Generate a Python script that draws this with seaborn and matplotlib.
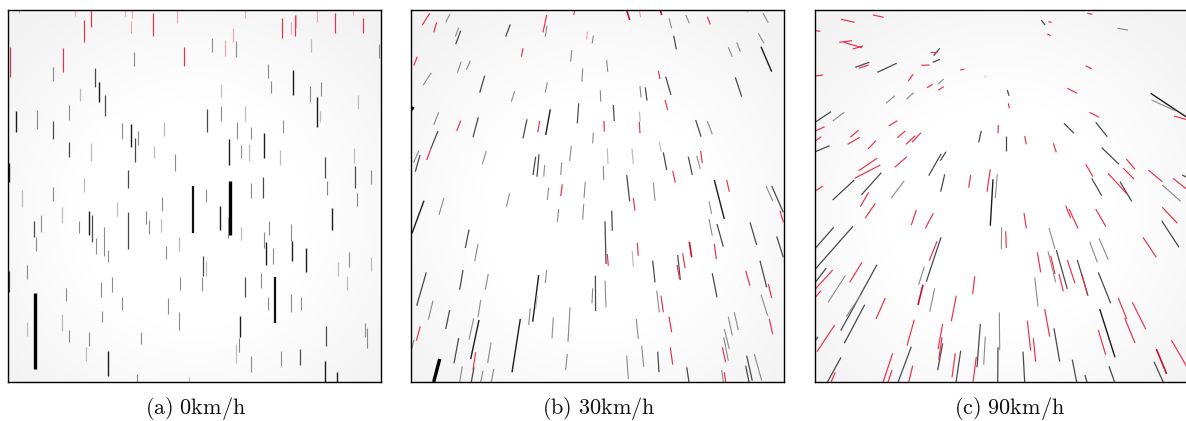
import numpy as np
import pandas as pd
import matplotlib
matplotlib.use("Agg")
import matplotlib.pyplot as plt
import seaborn as sns

# ---------------- data (image pixel coordinates of each streak) ----------------
# panel (a) 0km/h : vertical streaks  x, y_top, y_bottom, kind
a_x = [19.3, 75.3, 91.3, 83.7, 125.3, 132, 131.3, 153.3, 177.3, 10.3, 63.3, 184.3,
       244.7, 233.3, 225.3, 282.3, 290.7, 294.7, 295.7, 317.3, 334.7, 353.3, 363.3,
       134.3, 53.3, 95, 99, 80, 104.7, 69.3, 16.3, 37.3, 52.7, 122.3, 131.3, 138.3, 135, 164,
       153.7, 69.3, 91, 174.7, 8.8, 127.7, 83.7, 52.7, 21.7, 193,
       212.3, 236.3, 310.7, 379.3, 268.3, 292.7, 271.3, 221, 310, 321.3, 358, 317.3, 319.7,
       206.7, 221.3, 244.7, 283.3, 237.3, 251.3, 229.3, 264.3, 240.7, 248.7, 280, 325.3,
       354.3, 354.7, 370.7, 229.7, 262.7, 250.7, 327.3, 206, 357.3,
       220.3, 227.7, 241, 269.3, 264.3, 266.3, 273.3, 291.3, 292.3, 306.3, 332, 349.3, 338,
       371, 347, 202.7, 206.3, 202.3, 244.7, 261.3, 275.3, 268.3, 291.3, 301.3, 240.3, 239.3,
       236.3, 251.3, 281.3, 299.7, 325.7, 364.7, 366.7, 325.3, 337.3,
       61.7, 40.7, 34, 36.3, 89.3, 92, 79.3, 96.3, 104.3, 108.3, 116.7, 128, 146.3, 148.7,
       160.7, 162.3, 179, 166.3, 27.3, 9, 66.3, 100.7, 112.3, 122.3, 180.3, 168.3, 35.3, 61.7,
       27, 102.3, 69, 89.3, 179.3, 85.7, 107.7, 141.3, 137.3, 189.3]
a_y0 = [10, 10, 10, 20, 10, 10, 21, 13.3, 10, 46.7, 48.3, 46.7,
        10, 27.7, 40, 18.3, 22.3, 15, 15, 10, 13.3, 10, 18.3,
        52.3, 67.3, 68.3, 81.7, 88.3, 95, 105, 111, 110.3, 120.7, 123.3, 124.3, 131, 137.7, 121.7,
        145.7, 141.7, 143.3, 154.3, 163.3, 170, 177.7, 186.7, 190, 186,
        37.7, 41, 39.3, 44.3, 64.3, 70, 80.7, 84.3, 86, 82.3, 95, 97.3, 111,
        109.3, 105.7, 105.7, 120, 122.3, 126.7, 139, 133.3, 145, 144.3, 150, 156.7,
        148.3, 165.7, 170, 181, 176.7, 182.7, 180.7, 189, 192.7,
        206.3, 217.3, 227.3, 221.3, 232.3, 241.7, 248.3, 224, 240.7, 248, 208.3, 252.3, 262.3,
        257.3, 275.7, 255.7, 260.7, 277.3, 277.3, 273, 276.7, 297.3, 294, 296.7, 315.7, 338,
        344, 356.3, 350.7, 349, 325.7, 323.3, 328, 360.7, 371.7,
        207.3, 215, 221.3, 237.3, 210.7, 215, 221.3, 238, 227.3, 250, 202.3, 211.7, 210.7, 220,
        219, 197.3, 237.3, 245.7, 264.7, 270.7, 288.3, 281.7, 277.3, 297.3, 277.3, 298.3, 293, 314,
        321.7, 310.7, 330, 331.7, 311.7, 347.3, 351.3, 331.7, 374, 377]
a_y1 = [13.3, 15.7, 26.7, 42.3, 15.7, 17.7, 33.3, 35.7, 23.3, 77.3, 71.7, 65.7,
        17.7, 41.7, 56, 38.3, 34, 35.7, 27.7, 22.3, 33.3, 15, 33.3,
        65.7, 80.7, 87.3, 101.7, 100.7, 115.7, 120, 131.7, 129, 139, 139, 146.7, 145, 162.3, 135.7,
        158.3, 156.7, 160.7, 170.7, 181.7, 188.3, 191.7, 200.7, 207.3, 233,
        51.7, 56.7, 52.3, 57.7, 78.3, 95, 93.3, 96.7, 101.7, 95.7, 109.3, 127, 122.3,
        131.7, 121, 121, 132.7, 139.3, 139.3, 165, 158.3, 158.3, 160.7, 165, 177.7,
        162.7, 187.7, 184.3, 234.7, 198, 198, 195, 202.3, 206.3,
        229.7, 238, 239.7, 234.7, 248.3, 265, 264, 240.7, 261.3, 272.3, 230, 266.7, 275.7,
        271.3, 289.7, 275.7, 275.7, 290.7, 297.3, 288, 323.3, 310, 312.3, 310, 336.7, 352.3,
        363.3, 371.7, 365.7, 364.7, 346.3, 336.7, 348, 382, 382,
        223, 231.7, 237.3, 250.7, 235, 242.3, 233, 254, 255.7, 262.3, 215.7, 249, 224, 234,
        231.7, 211.3, 250.7, 259, 279, 292.3, 301.3, 296.7, 292.3, 309.7, 290, 314, 369, 330.7,
        335.7, 322.3, 341.7, 345.7, 329.7, 360.7, 375.7, 344, 382, 382]
a_kind = list("pprrpppr" "prrr" "pppr" "prppr" "pr") + \
    ["g", "g", "d", "k", "l", "d", "g", "k", "g", "d", "g", "k", "g", "d", "l",
     "l", "d", "l", "g", "k", "d", "l", "g", "l", "kt",
     "g", "g", "l", "g", "g", "k", "g", "l", "g", "g", "l", "k", "l",
     "d", "g", "l", "g", "g", "g", "k", "k", "g", "l", "l", "d",
     "l", "d", "g", "K", "d", "g", "g", "g", "g",
     "k", "g", "l", "g", "g", "k", "g", "g", "k", "k", "k", "g", "l",
     "l", "l", "d", "l", "g", "d", "g", "kt", "g", "g", "g", "k", "g",
     "l", "g", "g", "d", "d", "g", "g", "k", "k",
     "l", "g", "d", "g", "k", "d", "g", "g", "g", "g", "l", "d", "g", "g",
     "l", "g", "l", "g", "g", "d", "g", "g", "g", "g", "g", "g", "K", "l",
     "l", "g", "g", "g", "g", "l", "k", "g", "g", "l"]

# panel (b) 30km/h : slanted streaks  x0, y0, x1, y1, kind
b_x0 = [429.7, 436.7, 450, 458.7, 460.7, 510.3, 546.7, 547, 574.7, 587.3, 593.3, 523, 417.3,
        461.3, 470.3, 431.3, 484.7, 571.7, 582.7, 547.3, 514.7, 413, 438.7, 460.7, 478.3, 527,
        539.7, 550.3, 578.7, 593.3, 438, 430.7, 418.7, 420, 486.3, 535.7, 539, 544.7, 571.3,
        561.7, 585.3, 562.3, 548.7, 509.7,
        626.7, 639.3, 660.3, 669, 685.7, 707.3, 746.7, 763, 758.3, 673.7, 728.3, 736.7, 761,
        606.7, 658.3, 665.7, 735.3, 600.3, 640, 645.3, 665, 613.3, 639.3, 639.3, 604, 695.7,
        707.3, 607.3, 632, 659.3, 663.3, 700.7, 696.7, 688.3, 603.3, 672.7, 626.7, 653.3,
        714.3, 726.7, 766, 771.7,
        633.3, 780, 611.7, 605, 607.3, 709, 709, 717, 750, 776.7, 637.3, 632.3, 652.7, 677.7,
        677, 682.7, 689.3, 714.3, 712.3, 760, 745.7, 768.3, 761, 769.3, 595.4, 605, 656.7,
        661, 669, 636.3, 728.3, 734.3, 724.3, 723.7, 722.3, 641.7, 670.3, 657.7, 626.7, 686.7,
        721.7, 724.3, 746.7, 745.7, 754.3,
        558.7, 583.7, 424, 444, 469, 478, 426.3, 463, 488.3, 538.7, 546.7, 537.3, 530.3,
        592.7, 433, 449.7, 480.7, 473.7, 479, 553.3, 570, 520.3, 420.3, 414, 458.7, 491,
        475.7, 439.7, 462.3, 474, 483, 493.7, 567.3]
b_y0 = [13.3, 22.3, 14, 27.7, 30.7, 24.3, 15, 25.7, 10, 31.7, 35.7, 48.3, 56.7,
        61.7, 60.7, 72.7, 75.7, 50, 68.3, 82.3, 91, 106.7, 112.3, 120.7, 117.3, 119.3,
        121, 109.3, 103.3, 132.7, 131, 149, 150.7, 155, 151, 156.7, 154.3, 165, 146,
        162.3, 181.7, 184.3, 187.7, 193.3,
        10, 10, 10, 18.3, 15, 16.7, 10, 13.3, 33.3, 35.7, 47.3, 42.3, 46.7,
        60, 71, 76.7, 77.3, 90, 86, 87.3, 100, 105, 111.7, 121.7, 121, 120,
        121, 148.3, 148.3, 142.3, 152.3, 151, 155.7, 156.7, 166, 170.7, 175, 182.7,
        180, 180, 186, 186,
        198, 210.7, 210.7, 221.3, 254, 201.3, 219, 224, 222.3, 236.3, 243, 251.3, 260.7, 255,
        265, 253.3, 241.7, 244, 273.3, 260.7, 270.7, 284, 294.7, 319, 275.7, 280.7, 290.7,
        295.7, 316.7, 319, 316.7, 312.3, 329, 337.3, 347.3, 345.7, 347.3, 351.7, 355.7, 367.3,
        370, 372.3, 355.7, 365.7, 354,
        209, 204, 200.7, 198, 229.7, 244, 272.3, 270, 274, 275, 269.7, 295.7, 308.3,
        288.3, 300.7, 310, 300, 318.3, 320, 317.3, 307.3, 319, 326.3, 339.7, 338, 342.3,
        352.3, 359, 366.3, 367.3, 370.7, 369, 354]
b_x1 = [422.3, 433.7, 445.7, 455.3, 455.7, 505.7, 543, 545.3, 573.7, 586.7, 592.3, 521.3, 413.7,
        457.3, 466.3, 423.3, 479.7, 570.7, 582, 545.3, 511.3, 411.3, 433.7, 456.7, 473, 523,
        537.7, 545.7, 577.3, 592.7, 430.7, 426.7, 413.7, 415.3, 482.3, 533, 537, 543.7, 569.7,
        560.7, 584, 560.7, 547.3, 506.3,
        629.7, 640.7, 661.7, 671.7, 689.3, 710.3, 748, 768.3, 764, 676.3, 732.3, 740.3, 771.7,
        607.7, 660, 671, 741.7, 600.7, 641, 647, 667.7, 614.3, 640.3, 640, 604.3, 701,
        712.3, 608, 633.3, 661.3, 666.7, 702.3, 700.3, 692.3, 603.7, 675.3, 629.7, 655,
        724.3, 729.3, 772.7, 783.3,
        635, 783.3, 612.3, 606, 608.3, 711.7, 712.3, 723.3, 756.7, 783.3, 638.3, 633.3, 655, 680.3,
        679.7, 685, 691.7, 716.3, 717, 766.7, 750, 771.7, 767.7, 772.7, 595.6, 606, 659.3,
        663.3, 671.7, 638.3, 732.3, 738.3, 729.3, 728.3, 725.7, 643.7, 672.7, 659, 628.3, 689,
        723.3, 725.7, 752.3, 749, 761.7,
        557.3, 582.7, 412, 439, 465.3, 474.7, 416.7, 459.7, 485.3, 532.7, 545.3, 535.7, 528.7,
        592, 428.3, 445.7, 478, 469, 470.7, 552, 568, 512, 416.3, 411.3, 454, 487.7,
        473, 433.7, 459.7, 471.3, 480.7, 491.3, 565.7]
b_y1 = [25, 32.3, 22.3, 36.7, 44.3, 36.7, 32.3, 36.7, 15, 39.3, 43.3, 56.7, 65.7,
        72.7, 70, 85, 92.7, 61.7, 81.7, 92.7, 101.7, 110, 125, 131, 137.3, 138.3,
        132.3, 135, 123.3, 143.3, 149, 160, 162.7, 171.7, 164.3, 175, 176.7, 176.7, 161,
        175, 198, 196, 200, 206.7,
        20, 17.3, 15, 28.3, 23.3, 24.3, 12.3, 22.7, 43.3, 49.3, 56.7, 51.7, 71.7,
        71.7, 79, 95, 96.7, 101.7, 97.7, 100.7, 110, 121, 121.7, 133.3, 131.7, 136.7,
        134.3, 164.3, 164.3, 151.7, 170, 163.3, 169, 175, 180, 182.7, 201.3, 200.7,
        219, 191.7, 200.7, 212.3,
        210.7, 222.3, 230.7, 264, 265.7, 214, 235.7, 246.7, 245, 257.3, 255.7, 266.7, 282.3, 280,
        279, 268, 257.3, 259, 297.3, 287.3, 285.7, 298, 315.7, 334, 311, 307.3, 312.3,
        312.3, 332.3, 339, 335.7, 330, 349, 360.7, 362.3, 366.7, 364.7, 372.3, 379, 382,
        382, 382, 380.7, 382, 380.7,
        222.3, 219.7, 233.3, 214.7, 248, 261.3, 305.7, 289.7, 289.7, 321.7, 283, 309, 325,
        303.3, 319.7, 329, 317.3, 339.7, 359, 338.3, 341.7, 372.3, 340.7, 350.7, 363.3, 363,
        369.7, 382, 382, 382, 382, 382, 370]
b_kind = ["r", "r", "g", "g", "d", "d", "r", "g", "r", "p", "g", "r", "r",
          "g", "g", "g", "d", "g", "g", "g", "g", "K", "g", "r", "d", "d",
          "r", "k", "d", "g", "d", "r", "g", "d", "g", "d", "d", "g", "g",
          "g", "g", "r", "g", "g",
          "R", "p", "R", "g", "g", "r", "p", "g", "g", "d", "g", "g", "k",
          "g", "r", "d", "d", "g", "g", "d", "r", "d", "l", "r", "r", "d",
          "g", "l", "l", "l", "d", "r", "g", "d", "g", "r", "d", "g",
          "k", "r", "g", "d",
          "r", "r", "d", "d", "r", "g", "g", "d", "d", "d", "r", "l", "d", "d",
          "r", "r", "R", "r", "d", "d", "r", "r", "g", "r", "d", "g", "g",
          "r", "r", "g", "g", "g", "g", "g", "r", "g", "r", "d", "g", "d",
          "g", "r", "d", "d", "g",
          "g", "g", "k", "g", "d", "g", "d", "d", "g", "k", "g", "l", "g",
          "g", "g", "d", "g", "g", "k", "g", "g", "k", "r", "g", "d", "g",
          "r", "K", "g", "d", "g", "g", "g"]

# panel (c) 90km/h : slanted streaks  x0, y0, x1, y1, kind
c_x0 = [841, 873, 815.3, 839.3, 843.7, 852.7, 815.3, 855.3, 858.7, 877.3, 930.3, 933.7, 932.7,
        921.3, 960.3, 984.7, 908.3, 938, 927, 938, 886, 906.3, 816, 832.7, 888.7, 815.3,
        815.3, 815.3, 850.3, 847.7, 868, 897.3, 906, 912, 978.7, 998, 894.7, 858.7, 854.7,
        928.7, 940.3, 815.3, 832.7, 861.3, 891.3, 860.3, 940.7, 968.7, 987, 990.3, 995.3,
        865.3, 911.3, 925.3, 815.3, 815.3, 849.7, 815.3, 815.3, 815.3, 828, 840.7, 846.3,
        844.3, 876, 815.3, 817, 827.3, 831, 926.3, 929.3, 918.7, 918, 929.7, 972.7, 951.3,
        907, 938, 937.7, 938.7, 977, 983.7, 973, 956, 952, 883, 888, 898, 908.7, 997.7, 1001.3,
        1087.3, 1041.3, 1048.3, 1047.3, 1117.3, 1085.7, 1067.3, 1007.3, 1008.3, 1150.7, 1151.7,
        1174, 1089.7, 1064, 1095.7, 1005.7, 1024.7, 1053.3, 1101.7, 1126.3, 1123.3, 1085.7,
        1091.7, 1108, 1120, 1148.3, 1162.3, 1173, 1182.3,
        1065.7, 1069, 1095.7, 1024, 1162.3, 1161.7, 1005.7, 1049, 1089.7, 1099, 1143, 1037.3,
        1048, 1050.7, 1056.3, 1059, 1067.3, 1077.3, 1081.7, 1098.3, 1034.7, 1118.3, 1132.3,
        1124.7, 1044.7, 1099.7, 1054, 1027.3, 1033.3, 1098.3, 1171.3, 1023, 1072.3, 1085,
        1109, 1156.3, 1154, 999.3]
c_y0 = [19.3, 15, 30.7, 42.3, 42.3, 49, 76, 67.3, 68.3, 72.3, 51.7, 55.7, 62.3,
        65.3, 70, 77.3, 81, 84, 87.7, 90.3, 103.3, 99.3, 121.7, 121, 126, 131,
        141, 151.7, 137.3, 144.3, 149, 137.7, 144.3, 142.3, 142.3, 133.3, 167.3, 170.7, 178.3,
        175.7, 160.7, 191, 200, 195, 198, 206.7, 191.7, 187.7, 191.7, 225.7, 198,
        218, 225, 228.3, 248.3, 269, 282.3, 282.3, 289, 297.3, 302.3, 330.7, 316.7,
        343.3, 319, 340.7, 351.7, 382.3, 382.3, 281.7, 260.7, 284.7, 305, 311.7, 294, 321.3,
        345.7, 349, 370, 359.7, 367.3, 364.7, 382.3, 382.3, 377.3, 382.3, 382.3, 382.3, 382.3,
        382.3, 249,
        13.3, 20, 21.7, 34, 28.3, 65.7, 88.3, 90, 103.3, 93.3, 100,
        116, 112.3, 123.3, 122.3, 135.7, 136, 143.3, 147.7, 159, 168.3, 164.3,
        178.3, 173.3, 181.7, 170, 185, 178.3, 175,
        205.7, 209, 209, 213, 207.3, 220.7, 231.3, 228, 241.7, 238.3, 237.3, 252.3,
        251.3, 255.7, 250, 274, 260, 260, 274, 272.3, 277.3, 298, 302.3,
        318, 309, 309, 328.3, 320.7, 338.3, 330, 340, 351.7, 359.7, 375,
        366.3, 349, 361.7, 312.3]
c_x1 = [854.7, 883.7, 820.3, 852, 862, 863, 823, 869.3, 868.7, 896.7, 937.3, 939.7, 940,
        929.7, 964.3, 985.7, 913, 943.7, 932.7, 943.7, 894.7, 913.7, 831, 844.3, 897.3, 824.7,
        821.3, 829.7, 858.7, 859.7, 876, 905.3, 915.3, 921, 981.3, 998.3, 907, 877, 880.3,
        941, 946, 823, 854.3, 881.3, 904.3, 868.7, 944.7, 970.7, 990.3, 993, 997.3,
        875.3, 916.3, 933.3, 833.7, 853, 862, 826.3, 832.7, 821, 845.3, 877, 861.3,
        864.7, 885.3, 818, 834.7, 841, 835.3, 941, 937, 924.3, 923, 934.7, 974.7, 956.3,
        914.3, 942.7, 942.7, 942, 980.3, 985.3, 976.3, 960.7, 955.3, 892.7, 892, 911.3, 912.7,
        998, 1001.7,
        1092.3, 1045, 1051.7, 1050.7, 1128, 1091.7, 1077.3, 1009, 1009.3, 1190, 1175.7,
        1188, 1099, 1074, 1107.3, 1005.7, 1026.3, 1056.3, 1119, 1135, 1134, 1093,
        1101.7, 1127.3, 1131.7, 1162.3, 1180.7, 1188, 1188,
        1070.7, 1078, 1105.7, 1026.3, 1177.3, 1179, 1006.3, 1055, 1097.3, 1108.3, 1156.3, 1040.7,
        1055.7, 1055, 1067.3, 1063.3, 1075, 1088, 1087.3, 1110.7, 1038, 1126.7, 1145.7,
        1135, 1049.7, 1115, 1059.7, 1030.7, 1035.7, 1105.7, 1188, 1024.7, 1076.7, 1087,
        1114.7, 1166.7, 1163.3, 999.7]
c_y1 = [22.3, 17.3, 31.3, 40.7, 47.7, 46, 75, 62.3, 65, 63.3, 51.7, 48.3, 59.3,
        65, 69, 76, 74.3, 79, 84.3, 86.7, 95.7, 92.7, 111.7, 112.3, 120.7, 126.7,
        136.7, 145.7, 130, 137.3, 140.7, 131, 135.7, 132.7, 130.7, 125, 156.7, 158.3, 165,
        154, 151.7, 186, 180, 172.7, 180.7, 192.3, 174.3, 175, 169.3, 179.3, 174.3,
        203.3, 210, 213.3, 227.3, 226.3, 262.3, 268, 270, 290.7, 275.7, 264.7, 294,
        304.7, 298, 336.7, 325, 357.3, 372.3, 237.3, 241.3, 266.7, 284.7, 288.3, 276.3, 295.7,
        319.7, 324, 343.3, 337.3, 324, 336.7, 356.7, 350.7, 353.3, 353.3, 370, 346.7, 365.7,
        347.3, 227.3,
        14.3, 25, 22.3, 35.7, 30, 69, 93.3, 95.7, 108.3, 119.4, 111,
        120, 117.3, 133.3, 136.7, 150.7, 144.3, 152.3, 164.3, 169.3, 179, 176.7,
        195.7, 194.3, 201.3, 181.7, 201.3, 190.3, 178,
        218, 228.3, 226.3, 228.3, 223.3, 247.3, 248, 249, 262.3, 259.7, 257.3, 272.3,
        282.3, 274, 289, 291.3, 283.3, 295.7, 294, 303.3, 306.7, 319, 329,
        343, 336.7, 357.3, 361.7, 350.7, 361.7, 354.7, 368.7, 382.3, 382.3, 382.3,
        382.3, 374, 382.3, 350]
c_kind = ["r", "r", "r", "r", "r", "r", "r", "d", "r", "d", "r", "d", "d",
          "r", "r", "p", "r", "g", "r", "r", "g", "g", "d", "g", "r", "r",
          "r", "d", "r", "r", "r", "r", "r", "r", "d", "r", "r", "r", "r",
          "d", "d", "r", "d", "d", "g", "r", "d", "r", "r", "k", "g",
          "r", "r", "r", "d", "d", "r", "d", "r", "r", "g", "d", "g",
          "d", "r", "d", "r", "d", "r", "d", "r", "g", "R", "g", "r", "r",
          "r", "r", "d", "r", "d", "g", "r", "d", "r", "r", "r", "d", "r",
          "d", "g",
          "r", "d", "r", "r", "g", "r", "r", "d", "r", "k", "g",
          "r", "r", "d", "d", "d", "r", "r", "d", "r", "r", "r",
          "d", "r", "d", "r", "g", "r", "d",
          "r", "r", "r", "r", "r", "d", "r", "g", "g", "g", "r", "r",
          "g", "r", "d", "r", "r", "d", "r", "d", "g", "r", "r",
          "r", "r", "k", "d", "r", "r", "r", "r", "d", "d", "d",
          "d", "R", "d", "g"]

captions = ["(a) 0km/h", "(b) 30km/h", "(c) 90km/h"]
caption_center = [196, 599, 1010]
panel_left = [8, 411, 815]
panel_width = 373
panel_top, panel_bottom = 10, 382

# ---------------- styles ----------------
kind_color = {"K": "#000000", "kt": "#111111", "k": "#1c1c1c", "d": "#4a4a4a",
              "g": "#8a8a8a", "l": "#bdbdbd", "r": "#e8304e", "R": "#c8102e", "p": "#f5a0ae"}
kind_width = {"K": 2.4, "kt": 1.6, "k": 1.0, "d": 0.9, "g": 0.8, "l": 0.9,
              "r": 0.85, "R": 1.2, "p": 0.8}


def long_frame(x0, y0, x1, y1, kind):
    rows = []
    for i in range(len(x0)):
        rows.append((i, x0[i], y0[i], kind[i]))
        rows.append((i, x1[i], y1[i], kind[i]))
    return pd.DataFrame(rows, columns=["seg", "x", "y", "kind"])


frames = [long_frame(a_x, a_y0, a_x, a_y1, a_kind),
          long_frame(b_x0, b_y0, b_x1, b_y1, b_kind),
          long_frame(c_x0, c_y0, c_x1, c_y1, c_kind)]

sns.set_theme(style="white")
plt.rcParams["mathtext.fontset"] = "cm"

W, H = 1186, 421
fig = plt.figure(figsize=(W / 100, H / 100), dpi=100)
fig.patch.set_facecolor("white")

for k in range(3):
    left = panel_left[k]
    ax = fig.add_axes([left / W, 1 - panel_bottom / H, panel_width / W,
                       (panel_bottom - panel_top) / H])
    x_lo, x_hi = left, left + panel_width
    # vignette background
    gx = np.linspace(-1, 1, 300)
    gy = np.linspace(-1, 1, 300)
    GX, GY = np.meshgrid(gx, gy)
    r = np.sqrt(GX ** 2 + (GY - 0.1) ** 2)
    v = np.clip((r - 0.62) / 0.75, 0, 1)
    img = 1 - 0.05 * v
    ax.imshow(np.dstack([img, img, img]), extent=(x_lo, x_hi, panel_bottom, panel_top),
              aspect="auto", interpolation="bilinear", zorder=0)
    df = frames[k]
    kinds = [q for q in kind_color if q in set(df["kind"])]
    sns.lineplot(data=df, x="x", y="y", units="seg", estimator=None, sort=False,
                 hue="kind", hue_order=kinds, palette=kind_color,
                 size="kind", size_order=kinds, sizes=kind_width,
                 legend=False, ax=ax, zorder=2)
    for ln in ax.get_lines():
        ln.set_solid_capstyle("butt")
    ax.set_xlim(x_lo, x_hi)
    ax.set_ylim(panel_bottom, panel_top)
    ax.set_xticks([])
    ax.set_yticks([])
    ax.set_xlabel("")
    ax.set_ylabel("")
    for s in ax.spines.values():
        s.set_visible(True)
        s.set_color("black")
        s.set_linewidth(1.0)
    fig.text(caption_center[k] / W, 1 - 408 / H,
             r"$\mathrm{" + captions[k].replace(" ", r"\ ") + "}$",
             ha="center", va="center", fontsize=16, color="#111111")

fig.savefig("out.png", dpi=100, facecolor="white")
